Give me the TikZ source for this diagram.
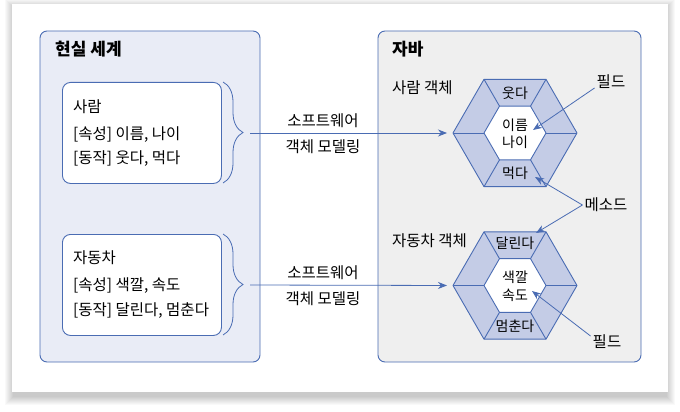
\documentclass[tikz,border=0pt]{standalone}
\usepackage{fontspec}
\setmainfont{Noto Sans CJK KR}
\usetikzlibrary{arrows.meta,decorations.pathreplacing}

\definecolor{linkblue}{HTML}{4A6CB3}
\definecolor{worldfill}{HTML}{E9ECF6}
\definecolor{javafill}{HTML}{EFEFEF}
\definecolor{ringfill}{HTML}{C4CCE6}

\tikzset{
  panel/.style={draw=linkblue, line width=0.9pt, rounded corners=7pt},
  classbox/.style={draw=linkblue, fill=white, line width=0.9pt, rounded corners=8pt,
    minimum width=159pt, minimum height=101pt, anchor=north west, inner sep=0pt},
  ringline/.style={draw=linkblue, line width=0.9pt, line join=round},
  link/.style={draw=linkblue, line width=0.8pt, -{Stealth[length=9pt,width=7pt]}},
  bracket/.style={draw=linkblue, line width=0.8pt,
    decorate, decoration={brace, amplitude=20pt}},
}

\begin{document}
\begin{tikzpicture}[x=1pt, y=-1pt]

        % page and card
        \fill[white] (0,0) rectangle (680,412);
        \useasboundingbox (0,0) rectangle (680,412);
        \foreach \i in {1,...,9}
          \fill[black, opacity=0.024] (14-\i,8-\i) rectangle (666+\i,396+\i);
        \fill[white] (12,4) rectangle (668,392);

        % two panels
        \draw[panel, fill=worldfill] (40,31) rectangle (260,362);
        \draw[panel, fill=javafill] (378,31) rectangle (641,362);

        \node[classbox] (personBox) at (62,82)  {};
        \node[classbox] (carBox)    at (62,234) {};

        \coordinate (personTop) at (223,82);
        \coordinate (personBot) at (223,183);
        \coordinate (carTop)    at (223,234);
        \coordinate (carBot)    at (223,335);
        \coordinate (personTip) at (250,133);
        \coordinate (carTip)    at (250,285);

        \draw[bracket] (personTop) -- (personBot);
        \draw[bracket] (carTop) -- (carBot);

        % hexagons
        \coordinate (hexA) at (515,133);
        \coordinate (hexB) at (515,285.5);
        \coordinate (hexAwest) at (453,133);
        \coordinate (hexBwest) at (453,285.5);

        \foreach \hex in {hexA,hexB} {
          \filldraw[ringline, fill=ringfill] ([shift={(\hex)}]0:62)
            \foreach \a in {60,120,...,300} {-- ([shift={(\hex)}]\a:62)} -- cycle;
          \filldraw[ringline, fill=white] ([shift={(\hex)}]0:31)
            \foreach \a in {60,120,...,300} {-- ([shift={(\hex)}]\a:31)} -- cycle;
          \foreach \a in {0,60,...,300}
            \draw[ringline] ([shift={(\hex)}]\a:31) -- ([shift={(\hex)}]\a:62);
        }

        % texts
        \begin{scope}[every node/.style={anchor=west, inner sep=0pt,
            font=\fontsize{15.5}{18}\selectfont}]
          \node[font=\fontsize{17}{19}\bfseries] (worldT) at (55,49.5)  {현실 세계};
          \node[font=\fontsize{17}{19}\bfseries] (javaT)  at (392,49.5) {자바};

          \node (personName) at (73,107) {사람};
          \node (personAttr) at (73,135) {[속성] 이름, 나이};
          \node (personAct)  at (73,159) {[동작] 웃다, 먹다};

          \node (carName) at (73,258) {자동차};
          \node (carAttr) at (73,286) {[속성] 색깔, 속도};
          \node (carAct)  at (73,311) {[동작] 달린다, 멈춘다};

          \node (personObj) at (392,88)  {사람 객체};
          \node (carObj)    at (392,241) {자동차 객체};
        \end{scope}

        \begin{scope}[every node/.style={inner sep=0pt,
            font=\fontsize{14}{16}\selectfont}]
          \node (laugh) at (515,93)  {웃다};
          \node (name)  at (515,125) {이름};
          \node (age)   at (515,142) {나이};
          \node (eat)   at (515,173) {먹다};

          \node (run)   at (515,243) {달린다};
          \node (color) at (515,277) {색깔};
          \node (speed) at (515,295) {속도};
          \node (stop)  at (515,326) {멈춘다};
        \end{scope}

        \begin{scope}[every node/.style={inner sep=2pt,
            font=\fontsize{15.5}{18}\selectfont}]
          \node (fieldA)  at (611,82)  {필드};
          \node (methodN) at (606,205) {메소드};
          \node (fieldB)  at (607,342) {필드};
        \end{scope}

        % connectors
        \coordinate (fieldAend) at (533,130);
        \coordinate (eatEnd)    at (535,177);
        \coordinate (runEnd)    at (536,233);
        \coordinate (fieldBend) at (532,291);

        \begin{scope}[every node/.style={font=\fontsize{15.5}{18}\selectfont}]
          \draw[link, shorten >=6pt] (personTip) -- (hexAwest)
            node[pos=0.36, above=2pt] {소프트웨어}
            node[pos=0.36, below=3pt] {객체 모델링};
          \draw[link, shorten >=6pt] (carTip) -- (hexBwest)
            node[pos=0.36, above=2pt] {소프트웨어}
            node[pos=0.36, below=3pt] {객체 모델링};
        \end{scope}

        \draw[link] (fieldA.200) -- (fieldAend);
        \draw[link] (methodN.west) -- (eatEnd);
        \draw[link] (methodN.west) -- (runEnd);
        \draw[link] (fieldB.160) -- (fieldBend);

\end{tikzpicture}
\end{document}
